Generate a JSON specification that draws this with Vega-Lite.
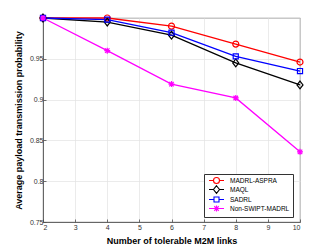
{
  "$schema": "https://vega.github.io/schema/vega-lite/v6.json",
  "autosize": "none",
  "width": 257,
  "height": 204,
  "padding": {"left": 43, "top": 18, "right": 32, "bottom": 27},
  "background": "white",
  "config": {
    "font": "Liberation Sans",
    "view": {"stroke": "#4d4d4d", "strokeWidth": 0.8},
    "axis": {
      "labelFont": "Liberation Sans", "labelFontSize": 7, "labelColor": "#333",
      "titleFont": "Liberation Sans", "titleFontSize": 9, "titleFontWeight": "bold", "titleColor": "#000",
      "gridColor": "#e3e3e3", "gridWidth": 0.7,
      "domainColor": "#4d4d4d", "domainWidth": 0.8,
      "tickColor": "#4d4d4d", "tickSize": -3, "tickWidth": 0.8
    }
  },
  "data": {"values": [
    {"x": 2, "y": 1.0, "s": "MADRL-ASPRA"},
    {"x": 4, "y": 1.0, "s": "MADRL-ASPRA"},
    {"x": 6, "y": 0.990, "s": "MADRL-ASPRA"},
    {"x": 8, "y": 0.968, "s": "MADRL-ASPRA"},
    {"x": 10, "y": 0.946, "s": "MADRL-ASPRA"},
    {"x": 2, "y": 1.0, "s": "MAQL"},
    {"x": 4, "y": 0.995, "s": "MAQL"},
    {"x": 6, "y": 0.979, "s": "MAQL"},
    {"x": 8, "y": 0.945, "s": "MAQL"},
    {"x": 10, "y": 0.918, "s": "MAQL"},
    {"x": 2, "y": 1.0, "s": "SADRL"},
    {"x": 4, "y": 0.998, "s": "SADRL"},
    {"x": 6, "y": 0.982, "s": "SADRL"},
    {"x": 8, "y": 0.953, "s": "SADRL"},
    {"x": 10, "y": 0.935, "s": "SADRL"},
    {"x": 2, "y": 1.0, "s": "Non-SWIPT-MADRL"},
    {"x": 4, "y": 0.960, "s": "Non-SWIPT-MADRL"},
    {"x": 6, "y": 0.919, "s": "Non-SWIPT-MADRL"},
    {"x": 8, "y": 0.902, "s": "Non-SWIPT-MADRL"},
    {"x": 10, "y": 0.836, "s": "Non-SWIPT-MADRL"}
  ]},
  "encoding": {
    "x": {"field": "x", "type": "quantitative", "scale": {"domain": [2, 10], "nice": false},
      "axis": {"values": [2,3,4,5,6,7,8,9,10], "title": "Number of tolerable M2M links", "titlePadding": 6, "labelPadding": 4}},
    "y": {"field": "y", "type": "quantitative", "scale": {"domain": [0.75, 1], "nice": false, "zero": false},
      "axis": {"values": [0.75,0.8,0.85,0.9,0.95,1], "format": "~g", "title": "Average payload transmission probability", "titlePadding": 6, "labelPadding": 3}},
    "color": {"field": "s", "type": "nominal", "legend": null,
      "scale": {"domain": ["MADRL-ASPRA", "MAQL", "SADRL", "Non-SWIPT-MADRL"], "range": ["#ff0000", "#000000", "#0000ff", "#ff00ff"]}}
  },
  "layer": [
    {"mark": {"type": "line", "strokeWidth": 1.3}},
    {"mark": {"type": "point", "filled": false, "strokeWidth": 1.2, "size": 36, "opacity": 1},
     "encoding": {
       "shape": {"field": "s", "type": "nominal", "legend": null,
         "scale": {"domain": ["MADRL-ASPRA", "MAQL", "SADRL", "Non-SWIPT-MADRL"],
           "range": ["M-1,0A1,1 0 1,0 1,0A1,1 0 1,0 -1,0Z", "M0,-1.3L1,0L0,1.3L-1,0Z", "M-0.85,-0.85H0.85V0.85H-0.85Z", "M-1,0H1M0,-1V1M-0.75,-0.75L0.75,0.75M-0.75,0.75L0.75,-0.75"]}}
     }},
    {"transform": [{"filter": "false"}],
     "mark": {"type": "point", "filled": false, "strokeWidth": 1.1, "opacity": 1},
     "encoding": {
       "color": {"field": "s", "type": "nominal",
         "scale": {"domain": ["MADRL-ASPRA", "MAQL", "SADRL", "Non-SWIPT-MADRL"], "range": ["#ff0000", "#000000", "#0000ff", "#ff00ff"]},
         "legend": {
           "title": null, "orient": "none", "legendX": 161, "legendY": 156,
           "symbolSize": 25, "symbolStrokeWidth": 1.1, "symbolFillColor": "transparent",
           "labelFont": "Liberation Sans", "labelFontSize": 6.5, "labelColor": "#000",
           "rowPadding": -3, "labelOffset": 10, "symbolOffset": 6,
           "strokeColor": "#333", "fillColor": "white", "padding": 3}},
       "shape": {"field": "s", "type": "nominal",
         "scale": {"domain": ["MADRL-ASPRA", "MAQL", "SADRL", "Non-SWIPT-MADRL"],
           "range": ["M-3,0H-1.2M1.2,0H3M-1.2,0A1.2,1.2 0 1,0 1.2,0A1.2,1.2 0 1,0 -1.2,0Z", "M-3,0H-1.2M1.2,0H3M0,-1.5L1.2,0L0,1.5L-1.2,0Z", "M-3,0H-1M1,0H3M-1,-1H1V1H-1Z", "M-3,0H3M0,-1.2V1.2M-0.9,-0.9L0.9,0.9M-0.9,0.9L0.9,-0.9"]},
         "legend": {
           "title": null, "orient": "none", "legendX": 161, "legendY": 156,
           "symbolSize": 25, "symbolStrokeWidth": 1.1, "symbolFillColor": "transparent",
           "labelFont": "Liberation Sans", "labelFontSize": 6.5, "labelColor": "#000",
           "rowPadding": -3, "labelOffset": 10, "symbolOffset": 6,
           "strokeColor": "#333", "fillColor": "white", "padding": 3}}
     }}
  ],
  "resolve": {"scale": {"shape": "independent", "color": "independent"}, "legend": {"shape": "independent", "color": "independent"}}
}
